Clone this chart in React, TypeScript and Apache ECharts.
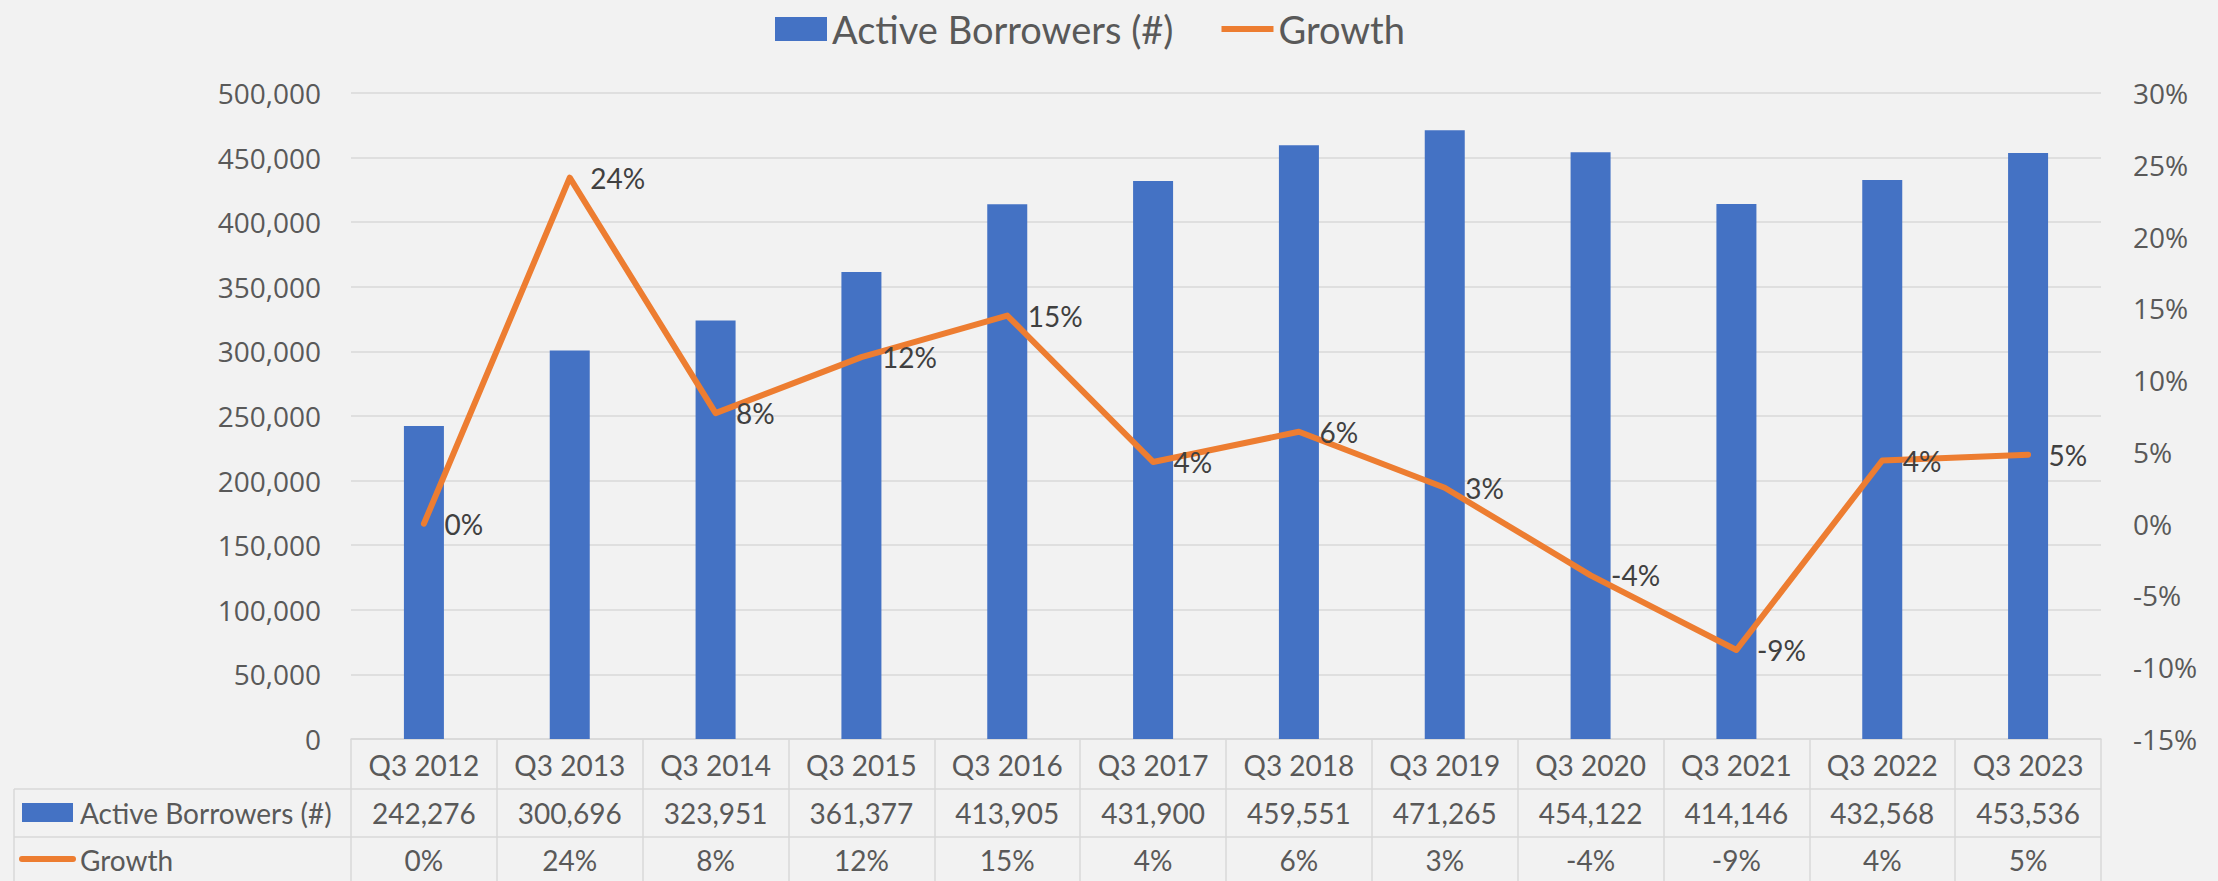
import React, { useEffect, useRef } from "react";
import * as echarts from "echarts";

const categories = ["Q3 2012", "Q3 2013", "Q3 2014", "Q3 2015", "Q3 2016", "Q3 2017", "Q3 2018", "Q3 2019", "Q3 2020", "Q3 2021", "Q3 2022", "Q3 2023"];
const borrowers = [242276, 300696, 323951, 361377, 413905, 431900, 459551, 471265, 454122, 414146, 432568, 453536];
const growth = [0, 24.1, 7.7, 11.6, 14.5, 4.3, 6.4, 2.5, -3.6, -8.8, 4.4, 4.8];
const leftAxis = { min: 0, max: 500000, interval: 50000 };
const rightAxis = { min: -15, max: 30, interval: 5 };
const seriesNames = ["Active Borrowers (#)", "Growth"];

const BLUE = "#4472C4";
const ORANGE = "#ED7D31";
const GRID = "#D9D9D9";
const TEXT = "#595959";
const DARK = "#404040";
const TFONT = "Lato, 'Noto Sans', sans-serif";
const AFONT = "'Open Sans', 'Noto Sans', sans-serif";

const fmtNum = (v: number) => v.toLocaleString("en-US");
const fmtPct = (v: number) => `${Math.round(v)}%`;

export default function App() {
  const ref = useRef<HTMLDivElement>(null);
  useEffect(() => {
    if (!ref.current) return;
    const chart = echarts.init(ref.current, null, { renderer: "svg" });
    const W = 2218;
    const gridLeft = 351;
    const gridRight = 117;
    const gridTop = 93;
    const gridBottom = 142;
    const row1 = 789;
    const row2 = 837;
    chart.setOption({
      animation: false,
      backgroundColor: "#F2F2F2",
      legend: {
        left: 770,
        top: 5,
        itemWidth: 52,
        itemHeight: 24,
        itemGap: 48,
        textStyle: { fontFamily: TFONT, fontSize: 38, color: TEXT },
        data: [
          { name: seriesNames[0], icon: "rect" },
          { name: seriesNames[1], icon: "path://M0,0L60,0L60,7L0,7Z" },
        ],
      },
      grid: {
        left: gridLeft, right: gridRight, top: gridTop, bottom: gridBottom,
        containLabel: false, outerBoundsMode: "none",
      },
      xAxis: [
        {
          type: "category",
          position: "bottom",
          data: categories,
          axisLine: { show: true, lineStyle: { color: GRID, width: 1.5 } },
          axisTick: { show: true, length: 142, interval: 0, lineStyle: { color: GRID, width: 1.5 } },
          axisLabel: { interval: 0, margin: 12, fontFamily: TFONT, fontSize: 28, lineHeight: 28, color: TEXT },
        },
        {
          type: "category",
          position: "bottom",
          offset: 0,
          data: categories,
          axisLine: { show: false },
          axisTick: { show: false },
          axisLabel: {
            interval: 0, margin: 60, fontFamily: TFONT, fontSize: 28, lineHeight: 28, color: TEXT,
            formatter: (_v: string, i: number) => fmtNum(borrowers[i]),
          },
        },
        {
          type: "category",
          position: "bottom",
          offset: 0,
          data: categories,
          axisLine: { show: false },
          axisTick: { show: false },
          axisLabel: {
            interval: 0, margin: 107, fontFamily: TFONT, fontSize: 28, lineHeight: 28, color: TEXT,
            formatter: (_v: string, i: number) => fmtPct(growth[i]),
          },
        },
      ],
      yAxis: [
        {
          type: "value",
          min: leftAxis.min,
          max: leftAxis.max,
          interval: leftAxis.interval,
          axisLine: { show: false },
          axisTick: { show: false },
          splitLine: { show: true, lineStyle: { color: GRID, width: 1.5 } },
          axisLabel: { margin: 30, fontFamily: AFONT, fontSize: 28, color: TEXT, formatter: (v: number) => fmtNum(v) },
        },
        {
          type: "value",
          position: "right",
          min: rightAxis.min,
          max: rightAxis.max,
          interval: rightAxis.interval,
          axisLine: { show: false },
          axisTick: { show: false },
          splitLine: { show: false },
          axisLabel: { margin: 32, fontFamily: AFONT, fontSize: 28, color: TEXT, formatter: (v: number) => `${v}%` },
        },
      ],
      series: [
        {
          name: seriesNames[0],
          type: "bar",
          xAxisIndex: 0,
          yAxisIndex: 0,
          barWidth: 40,
          itemStyle: { color: BLUE },
          data: borrowers,
        },
        {
          name: seriesNames[1],
          type: "line",
          xAxisIndex: 0,
          yAxisIndex: 1,
          symbol: "circle",
          symbolSize: 1,
          showSymbol: true,
          itemStyle: { color: ORANGE },
          lineStyle: { color: ORANGE, width: 6, cap: "round", join: "round" },
          label: {
            show: true,
            position: "right",
            distance: 20,
            fontFamily: TFONT,
            fontSize: 28,
            color: DARK,
            formatter: (p: any) => fmtPct(p.value),
          },
          data: growth,
        },
      ],
      graphic: [
        { type: "line", shape: { x1: 14, y1: row1, x2: W - gridRight, y2: row1 }, style: { stroke: GRID, lineWidth: 1.5 } },
        { type: "line", shape: { x1: 14, y1: row2, x2: W - gridRight, y2: row2 }, style: { stroke: GRID, lineWidth: 1.5 } },
        { type: "line", shape: { x1: 14, y1: row1, x2: 14, y2: 881 }, style: { stroke: GRID, lineWidth: 1.5 } },
        { type: "rect", shape: { x: 22, y: 803, width: 51, height: 19 }, style: { fill: BLUE } },
        { type: "line", shape: { x1: 22, y1: 859, x2: 73, y2: 859 }, style: { stroke: ORANGE, lineWidth: 6, lineCap: "round" } },
        {
          type: "text", x: 80, y: 813,
          style: { text: seriesNames[0], fontFamily: TFONT, fontSize: 28, fill: TEXT, verticalAlign: "middle" },
        },
        {
          type: "text", x: 80, y: 860,
          style: { text: seriesNames[1], fontFamily: TFONT, fontSize: 28, fill: TEXT, verticalAlign: "middle" },
        },
      ],
    });
    return () => chart.dispose();
  }, []);
  return <div ref={ref} style={{ position: "fixed", left: 0, top: 0, width: 2218, height: 881 }} />;
}
